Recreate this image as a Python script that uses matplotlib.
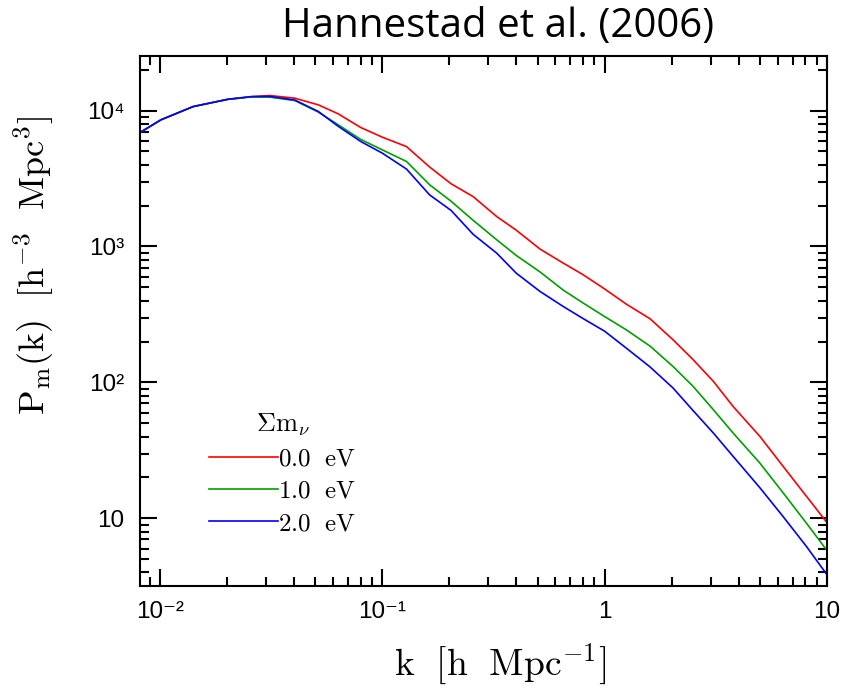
import numpy as np
import matplotlib
matplotlib.use('Agg')
import matplotlib.pyplot as plt
from matplotlib.ticker import LogLocator, NullFormatter, FixedLocator, FixedFormatter

plt.rcParams['mathtext.fontset'] = 'cm'

# wavenumber grid [h/Mpc]
k = [0.00813, 0.0101, 0.0141, 0.0202, 0.0258, 0.0312, 0.0404, 0.0515, 0.0634,
     0.0800, 0.1, 0.1285, 0.163, 0.204, 0.256, 0.327, 0.40, 0.512, 0.651, 0.80,
     1.0, 1.25, 1.6, 2.03, 2.50, 3.08, 3.78, 4.99, 6.35, 8.09, 10.0]

# matter power spectrum for each neutrino mass sum
pk_0ev = [6890, 8550, 10700, 12100, 12680, 12900, 12330, 11020, 9450,
          7500, 6370, 5430, 3850, 2890, 2330, 1660, 1320, 957, 755, 620,
          487, 377, 294, 206, 147, 102, 66.6, 40.1, 24.1, 14.5, 9.3]
pk_1ev = [6890, 8550, 10700, 12100, 12600, 12550, 11850, 9750, 7850,
          6130, 5140, 4220, 2850, 2150, 1560, 1120, 860, 650, 478, 384,
          305, 244, 185, 131, 93.5, 63.1, 42.5, 25.5, 15.4, 9.2, 5.8]
pk_2ev = [6890, 8550, 10700, 12100, 12650, 12700, 11950, 9850, 7650,
          5920, 4860, 3710, 2400, 1840, 1230, 893, 637, 467, 362, 295,
          238, 179, 130, 91, 62, 42.5, 28.6, 16.8, 10.3, 6.2, 3.85]

labels = [r'$\mathrm{0.0\ \ eV}$', r'$\mathrm{1.0\ \ eV}$', r'$\mathrm{2.0\ \ eV}$']
colors = ['#ff0000', '#00a000', '#0000ff']

xticks = [0.01, 0.1, 1, 10]
xticklabels = ['10⁻²', '10⁻¹', '1', '10']
yticks = [10, 100, 1000, 10000]
yticklabels = ['10', '10²', '10³', '10⁴']

fig = plt.figure(figsize=(8.44, 6.90), dpi=100)
ax = fig.add_axes([140/844, 1-586/690, 687/844, 530/690])

for pk, lab, c in zip([pk_0ev, pk_1ev, pk_2ev], labels, colors):
    ax.plot(k, pk, color=c, lw=1.2, label=lab)

ax.set_xscale('log')
ax.set_yscale('log')
ax.set_xlim(0.00813, 10)
ax.set_ylim(3.18, 25200)

tick_font = ['Liberation Sans', 'DejaVu Sans']
ax.xaxis.set_major_locator(FixedLocator(xticks))
ax.xaxis.set_major_formatter(FixedFormatter(xticklabels))
ax.yaxis.set_major_locator(FixedLocator(yticks))
ax.yaxis.set_major_formatter(FixedFormatter(yticklabels))
ax.xaxis.set_minor_locator(LogLocator(base=10, subs=np.arange(2, 10), numticks=20))
ax.yaxis.set_minor_locator(LogLocator(base=10, subs=np.arange(2, 10), numticks=20))
ax.xaxis.set_minor_formatter(NullFormatter())
ax.yaxis.set_minor_formatter(NullFormatter())

ax.tick_params(which='both', direction='in', top=True, right=True, width=1.5, colors='black')
ax.tick_params(which='major', length=12.5)
ax.tick_params(which='minor', length=6.5)
ax.tick_params(axis='x', which='major', pad=11)
ax.tick_params(axis='y', which='major', pad=11)
for t in ax.get_xticklabels() + ax.get_yticklabels():
    t.set_family(tick_font)
    t.set_fontsize(17.5)

for s in ax.spines.values():
    s.set_linewidth(1.5)

leg = ax.legend(loc='upper left', bbox_to_anchor=(69/687, (586-412)/530), frameon=False,
                title=r'$\Sigma\mathrm{m}_\nu$', fontsize=18, title_fontsize=19,
                handlelength=2.76, handletextpad=0.0, labelspacing=0.33,
                borderpad=0, borderaxespad=0)

fig.text(498/844, 1-27/690, 'Hannestad et al. (2006)', family='Open Sans',
         fontsize=29, ha='center', va='center')
fig.text(500/844, 1-664/690, r'$\mathrm{k\ \ [h\ \ Mpc^{-1}]}$', fontsize=27,
         ha='center', va='center')
fig.text(34/844, 1-266/690, r'$\mathrm{P_m(k)\ \ [h^{-3}\ \ Mpc^3]}$', fontsize=26,
         ha='center', va='center', rotation=90)

fig.savefig('out.png', dpi=100)
